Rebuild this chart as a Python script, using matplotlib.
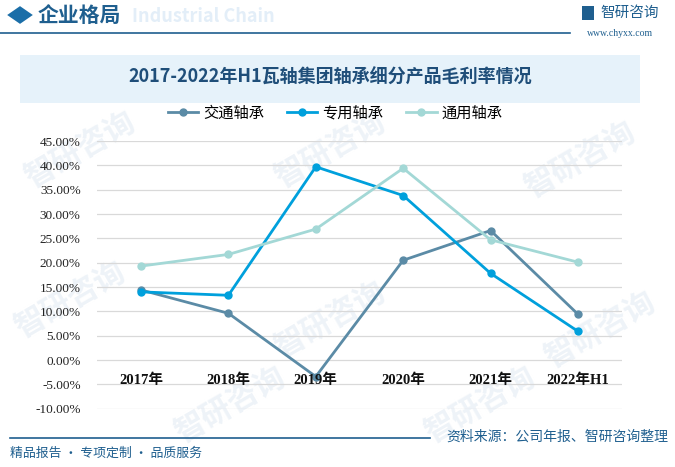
import matplotlib
matplotlib.use("Agg")
import matplotlib.pyplot as plt
from matplotlib.patches import Rectangle, RegularPolygon
from matplotlib.lines import Line2D

plt.rcParams['font.family'] = ['Noto Sans CJK SC', 'DejaVu Sans']

categories = ["2017年", "2018年", "2019年", "2020年", "2021年", "2022年H1"]
series_names = ["交通轴承", "专用轴承", "通用轴承"]
jiaotong = [14.4, 9.6, -3.4, 20.5, 26.6, 9.4]
zhuanyong = [14.0, 13.3, 39.7, 33.8, 17.8, 5.9]
tongyong = [19.3, 21.7, 26.9, 39.4, 24.7, 20.1]
yticks = [-10, -5, 0, 5, 10, 15, 20, 25, 30, 35, 40, 45]
title = "2017-2022年H1瓦轴集团轴承细分产品毛利率情况"
colors = ["#5b8ba6", "#00a0dc", "#a3d8d6"]

W, H = 675, 467
fig = plt.figure(figsize=(W / 100, H / 100), dpi=100)

def fx(px):
    return px / W

def fy(py):
    return 1 - py / H

# faint watermarks (behind everything)
for (x, y) in [(80, 150), (330, 150), (580, 160), (70, 300), (330, 320), (600, 330), (230, 405), (480, 405)]:
    fig.text(fx(x), fy(y), "智研咨询", fontsize=22, color="#eef3f8", rotation=30,
             ha="center", va="center", zorder=-5, fontweight="bold")

# header
fig.patches.append(RegularPolygon((fx(20), fy(15)), numVertices=4, radius=0.019,
                                  orientation=0, transform=fig.transFigure,
                                  facecolor="#1b6ea8", edgecolor="none"))
fig.text(fx(132), fy(16), "Industrial Chain", fontsize=13, color="#e3eef8",
         fontweight="bold", ha="left", va="center", zorder=-4)
fig.text(fx(38), fy(15), "企业格局", fontsize=15, color="#1f5f8f",
         fontweight="bold", ha="left", va="center")
fig.add_artist(Line2D([0, fx(570)], [fy(33), fy(33)], color="#1f5f8f", lw=1.2,
                      transform=fig.transFigure))
fig.text(fx(600), fy(13), "智研咨询", fontsize=10.5, color="#1f5f8f",
         ha="left", va="center")
fig.add_artist(Rectangle((fx(582), fy(20)), fx(12), 14 / H, transform=fig.transFigure,
                         facecolor="#1f5f8f", edgecolor="none"))
fig.text(fx(620), fy(33), "www.chyxx.com", fontsize=7, color="#1f5f8f",
         ha="center", va="center", family=["Liberation Serif"])

# title box
fig.add_artist(Rectangle((fx(20), fy(103)), fx(620), 48 / H, transform=fig.transFigure,
                         facecolor="#e6f2fa", edgecolor="none", zorder=1))
fig.text(fx(330), fy(77), title, fontsize=13, color="#1f4e79", fontweight="bold",
         ha="center", va="center", zorder=2)

# axes
ax = fig.add_axes([fx(97.3), fy(408.7), fx(621.7 - 97.3), (408.7 - 141) / H])
ax.set_facecolor("none")
x = list(range(len(categories)))
for vals, c, name in zip([jiaotong, zhuanyong, tongyong], colors, series_names):
    ax.plot(x, vals, color=c, lw=2.0, marker="o", markersize=5, label=name,
            solid_joinstyle="miter", zorder=3)

ax.set_xlim(-0.5, len(categories) - 0.5)
ax.set_ylim(-10, 45)
ax.set_yticks(yticks)
ax.set_yticklabels([f"{v:.2f}%" for v in yticks], fontsize=9.5, color="#222222",
                   family=["Liberation Serif", "DejaVu Sans"])
ax.tick_params(axis="y", length=0, pad=12)
ax.set_xticks([])
ax.grid(axis="y", color="#d9d9d9", lw=0.9)
ax.set_axisbelow(True)
for s in ax.spines.values():
    s.set_visible(False)
for i, lab in enumerate(categories):
    ax.text(i, -4.1, lab, ha="center", va="center", fontsize=10.5, fontweight="bold",
            color="#111111", family=["Liberation Serif", "Noto Sans CJK SC"], zorder=4)

leg = fig.legend(loc="center", bbox_to_anchor=(fx(335), fy(113)), ncol=3, frameon=False,
                 fontsize=11, handlelength=2.0, columnspacing=1.5, handletextpad=0.3)

# footer
fig.add_artist(Line2D([fx(10), fx(430)], [fy(438), fy(438)], color="#1f5f8f", lw=1.2,
                      transform=fig.transFigure))
fig.text(fx(10), fy(453), "精品报告 · 专项定制 · 品质服务", fontsize=9.3, color="#1f5f8f",
         ha="left", va="center")
fig.text(fx(668), fy(437), "资料来源：公司年报、智研咨询整理", fontsize=10, color="#1f5f8f",
         ha="right", va="center")

fig.savefig("out.png", dpi=100)
